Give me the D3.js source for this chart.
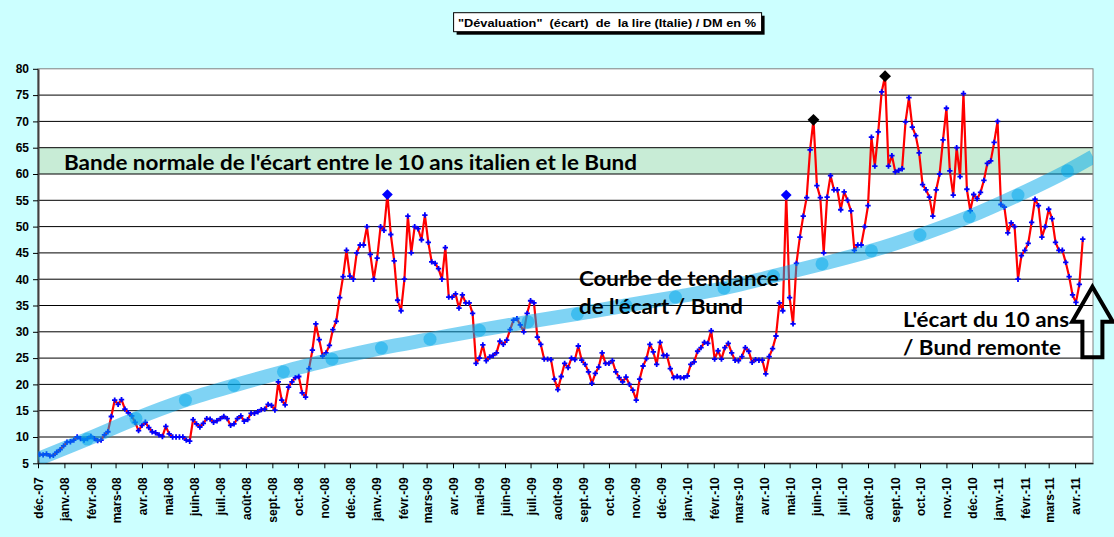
<!DOCTYPE html>
<html>
<head>
<meta charset="utf-8">
<script src="https://cdn.jsdelivr.net/npm/d3@7"></script>
<style>
  html, body { margin: 0; padding: 0; background: #ccffff; }
  svg { display: block; }
</style>
</head>
<body>
<svg id="chart" width="1114" height="537"></svg>
<script>
// spread series: one reading every 4 days from 3 Dec 2007
var startDate = "2007-12-03";
var stepDays = 4;
var spread = [
  6.7, 6.6, 6.8, 6.4, 6.5, 7.1, 7.6, 8.3, 9.0, 9.1, 9.4, 10.0, 9.7, 9.4, 9.7, 10.1, 9.7, 9.3, 9.4, 10.4,
  11.0, 13.9, 17.0, 16.2, 17.1, 15.3, 14.6, 14.0, 12.8, 11.2, 12.2, 12.8, 11.8, 11.0, 10.8, 10.4, 10.1, 12.0, 10.6, 10.0,
  10.0, 10.0, 10.0, 9.4, 9.2,
  13.3, 12.5, 11.9, 12.6, 13.5, 13.4, 12.8, 13.1, 13.5, 13.9, 13.5, 12.2, 12.5, 13.5, 14.0, 13.0, 13.3, 14.5, 14.5, 14.8,
  15.2, 15.3, 16.2, 16.0, 15.1, 20.5, 17.0, 16.1, 19.5, 20.5, 21.3, 21.5, 18.4, 17.6, 23.0, 26.5, 31.5, 28.5, 25.4, 26.0,
  27.4, 30.4, 32.0, 36.5,
  40.5, 45.5, 40.6, 40.0, 45.0, 46.5, 46.5, 50.0, 44.7, 40.0, 44.0, 50.0, 49.3, 56.1, 48.5, 43.5, 36.0, 34.0, 40.0, 52.0,
  45.0, 50.0, 49.6, 47.5, 52.2, 47.0, 43.3, 43.0, 42.0, 40.0, 46.0, 36.6, 36.6, 37.2, 34.5, 37.0, 35.5, 35.5, 33.5, 24.0,
  25.0, 27.5, 24.5, 25.2, 25.5, 26.0, 28.2, 27.6,
  28.4, 30.4, 32.2, 32.5, 31.3, 30.0, 33.5, 35.9, 35.5, 29.0, 27.6, 24.8, 24.8, 24.7, 21.0, 19.0, 21.5, 24.0, 23.2, 25.0,
  24.7, 27.3, 24.6, 23.8, 22.4, 20.2, 22.1, 23.3, 26.0, 24.0, 24.0, 24.5, 22.4, 21.3, 20.5, 21.4, 20.0, 18.9, 17.0, 21.0,
  23.5, 24.9, 27.6, 26.2, 23.8, 28.0, 25.5,
  25.5, 23.0, 21.3, 21.5, 21.3, 21.3, 21.6, 23.8, 24.3, 26.3, 27.0, 28.0, 27.8, 30.2, 24.8, 26.4, 24.8, 27.0, 27.8, 26.0,
  24.6, 24.5, 25.3, 27.0, 26.3, 24.2, 24.7, 24.6, 24.6, 22.0, 25.3, 26.8, 29.2, 35.5,
  34.0, 56.0, 36.5, 31.5, 43.0, 48.0, 52.0, 55.5, 64.6, 70.3, 57.8, 55.5, 45.0, 55.6, 59.7, 57.0, 57.0, 53.2, 56.6, 55.0,
  53.0, 45.5, 46.5, 46.5, 50.0, 54.0, 67.0, 61.5, 68.0, 75.6, 78.6, 61.5, 63.5, 60.4, 60.7, 61.0, 69.9, 74.5, 68.9, 67.3,
  64.0, 58.0, 57.0, 55.6,
  52.0, 57.0, 60.0, 66.5, 72.5, 60.6, 56.0, 65.0, 59.5, 75.3, 57.1, 53.0, 56.1, 55.3, 56.5, 58.8, 62.0, 62.5, 66.0, 70.0,
  54.2, 53.7, 48.8, 50.7, 50.0, 40.0, 44.5, 45.5, 46.8, 50.8, 55.2, 54.0, 48.0, 50.0, 53.3, 51.5, 47.0, 45.5, 45.5, 43.2,
  40.5, 37.0, 35.6, 39.0, 47.6
];

// highlighted points (diamonds)
var highlightDates = ["2009-01-14", "2010-04-27", "2010-05-29", "2010-08-21"];
var highlightValues = [56.1, 56.0, 70.3, 78.6];
var highlightColors = ["#0000ff", "#0000ff", "#000000", "#000000"];

// trend curve
var trendDates = ["2007-12-01", "2008-01-28", "2008-03-25", "2008-05-22", "2008-07-18", "2008-09-14",
  "2008-11-10", "2009-01-07", "2009-03-05", "2009-05-02", "2009-06-28", "2009-08-25", "2009-10-21",
  "2009-12-18", "2010-02-13", "2010-04-12", "2010-06-08", "2010-08-05", "2010-10-01", "2010-11-28",
  "2011-01-24", "2011-03-23", "2011-04-22"];
var trendValues = [5.8, 9.6, 13.5, 17.0, 19.8, 22.4, 24.8, 26.9, 28.6, 30.3, 31.9, 33.4, 35.0,
  36.6, 38.3, 40.6, 42.9, 45.4, 48.4, 51.9, 56.0, 60.6, 63.3];

var yTicks = [5, 10, 15, 20, 25, 30, 35, 40, 45, 50, 55, 60, 65, 70, 75, 80];
var monthNames = ["janv.", "févr.", "mars", "avr.", "mai", "juin", "juil.", "août", "sept.", "oct.", "nov.", "déc."];
var normalBand = [60, 65];
var xDomain = ["2007-12-01", "2011-04-22"];

var titleText = "\"Dévaluation\"  (écart)  de  la lire (Italie) / DM en %";
var bandLabel = "Bande normale de l'écart entre le 10 ans italien et le Bund";
var trendLabel = ["Courbe de tendance", "de l'écart / Bund"];
var riseLabel = ["L'écart du 10 ans", "/ Bund remonte"];

var svg = d3.select("#chart");
var parse = d3.utcParse("%Y-%m-%d");
var plot = {left: 38, right: 1093, top: 68.8, bottom: 463.3};

var x = d3.scaleUtc()
    .domain(xDomain.map(parse))
    .range([plot.left, plot.right]);

var y = d3.scaleLinear()
    .domain([5, 80])
    .range([plot.bottom, plot.top]);

var t0 = parse(startDate);
var points = spread.map(function(v, i) {
  return {date: d3.utcDay.offset(t0, i * stepDays), v: v};
});
var trend = trendDates.map(function(d, i) { return {date: parse(d), v: trendValues[i]}; });
var highs = highlightDates.map(function(d, i) {
  return {date: parse(d), v: highlightValues[i], c: highlightColors[i]};
});

svg.append("rect")
    .attr("width", 1114).attr("height", 537)
    .attr("fill", "#ccffff");

svg.append("defs").append("clipPath")
    .attr("id", "plotclip")
  .append("rect")
    .attr("x", plot.left).attr("y", plot.top)
    .attr("width", plot.right - plot.left)
    .attr("height", plot.bottom - plot.top);

// plot area
svg.append("rect")
    .attr("x", plot.left).attr("y", plot.top)
    .attr("width", plot.right - plot.left)
    .attr("height", plot.bottom - plot.top)
    .attr("fill", "white");

svg.append("rect")
    .attr("x", plot.left).attr("y", y(normalBand[1]))
    .attr("width", plot.right - plot.left)
    .attr("height", y(normalBand[0]) - y(normalBand[1]))
    .attr("fill", "#c8ecd6");

svg.append("g")
  .selectAll("line")
  .data(yTicks.filter(function(d) { return d < 80; }))
  .join("line")
    .attr("x1", plot.left).attr("x2", plot.right)
    .attr("y1", function(d) { return y(d); })
    .attr("y2", function(d) { return y(d); })
    .attr("stroke", "#000")
    .attr("stroke-width", 1);

svg.append("rect")
    .attr("x", plot.left).attr("y", plot.top)
    .attr("width", plot.right - plot.left)
    .attr("height", plot.bottom - plot.top)
    .attr("fill", "none")
    .attr("stroke", "#808080");

// axes
var yAxis = svg.append("g")
    .attr("transform", "translate(" + plot.left + ",0)")
    .call(d3.axisLeft(y).tickValues(yTicks).tickSize(5).tickSizeOuter(0).tickPadding(4));
yAxis.select(".domain").attr("stroke", "#404040").attr("stroke-width", 2);
yAxis.selectAll("text")
    .style("font", "bold 12px 'Liberation Sans', Arial, sans-serif")
    .attr("fill", "#000");

var xAxis = svg.append("g")
    .attr("transform", "translate(0," + plot.bottom + ")")
    .call(d3.axisBottom(x)
      .ticks(d3.utcMonth.every(1))
      .tickSize(5)
      .tickSizeOuter(0)
      .tickFormat(function(d) {
        return monthNames[d.getUTCMonth()] + "-" + String(d.getUTCFullYear()).slice(2);
      }));
xAxis.select(".domain").attr("stroke", "#000");
xAxis.selectAll("text")
    .style("font", "bold 12px 'Liberation Sans', Arial, sans-serif")
    .attr("fill", "#000")
    .attr("transform", "rotate(-90)")
    .attr("text-anchor", "end")
    .attr("x", -14)
    .attr("y", 0)
    .attr("dy", "0.38em");

// spread line and markers
var line = d3.line()
    .x(function(d) { return x(d.date); })
    .y(function(d) { return y(d.v); });

var dataLayer = svg.append("g").attr("clip-path", "url(#plotclip)");

dataLayer.append("path")
    .datum(points)
    .attr("d", line)
    .attr("fill", "none")
    .attr("stroke", "#ff0000")
    .attr("stroke-width", 2.2)
    .attr("stroke-linejoin", "round");

dataLayer.selectAll(".mk")
  .data(points)
  .join("path")
    .attr("class", "mk")
    .attr("d", d3.symbol(d3.symbolCross).size(16))
    .attr("transform", function(d) { return "translate(" + x(d.date) + "," + y(d.v) + ")"; })
    .attr("fill", "#0000ff");

svg.selectAll(".hi")
  .data(highs)
  .join("path")
    .attr("class", "hi")
    .attr("d", function(d) {
      return d3.symbol(d3.symbolSquare).size(d.c === "#000000" ? 70 : 58)();
    })
    .attr("transform", function(d) { return "translate(" + x(d.date) + "," + y(d.v) + ") rotate(45)"; })
    .attr("fill", function(d) { return d.c; });

// trend curve
var trendLayer = svg.append("g").attr("clip-path", "url(#plotclip)");
trendLayer.append("path")
    .datum(trend)
    .attr("d", line.curve(d3.curveMonotoneX))
    .attr("fill", "none")
    .attr("stroke", "#00a7e9")
    .attr("stroke-opacity", 0.5)
    .attr("stroke-width", 14);

trendLayer.selectAll("circle")
  .data(trend.slice(1, -1))
  .join("circle")
    .attr("cx", function(d) { return x(d.date); })
    .attr("cy", function(d) { return y(d.v); })
    .attr("r", 6.5)
    .attr("fill", "#00a7e9")
    .attr("fill-opacity", 0.5);

// title box
svg.append("rect")
    .attr("x", 456.6).attr("y", 15.7)
    .attr("width", 308).attr("height", 19)
    .attr("fill", "#000");
svg.append("rect")
    .attr("x", 453.6).attr("y", 12.7)
    .attr("width", 308).attr("height", 19)
    .attr("fill", "#fff")
    .attr("stroke", "#000");
svg.append("text")
    .attr("x", 458).attr("y", 26.5)
    .attr("textLength", 298)
    .attr("lengthAdjust", "spacingAndGlyphs")
    .style("font", "bold 11px 'Liberation Sans', Arial, sans-serif")
    .style("white-space", "pre")
    .text(titleText);

// annotations
function note(txt, px, py, len, size) {
  svg.append("text")
      .attr("x", px).attr("y", py)
      .attr("textLength", len)
      .attr("lengthAdjust", "spacingAndGlyphs")
      .style("font", "bold " + size + "px Lato, 'Open Sans', sans-serif")
      .attr("fill", "#000")
      .text(txt);
}
note(bandLabel, 64, 170, 573, 21);
note(trendLabel[0], 579, 286, 200, 21);
note(trendLabel[1], 579, 314, 164, 21);
note(riseLabel[0], 903, 327, 166, 21);
note(riseLabel[1], 903, 355, 158, 21);

// hollow up arrow
var arrow = [[1092.4, 286.7], [1112.8, 321.7], [1102.4, 321.7], [1102.4, 357.3],
             [1082.4, 357.3], [1082.4, 321.7], [1072.2, 321.7]];
svg.append("polygon")
    .attr("points", arrow.map(function(p) { return p.join(","); }).join(" "))
    .attr("fill", "none")
    .attr("stroke", "#000")
    .attr("stroke-width", 4)
    .attr("stroke-linejoin", "miter");
</script>
</body>
</html>
